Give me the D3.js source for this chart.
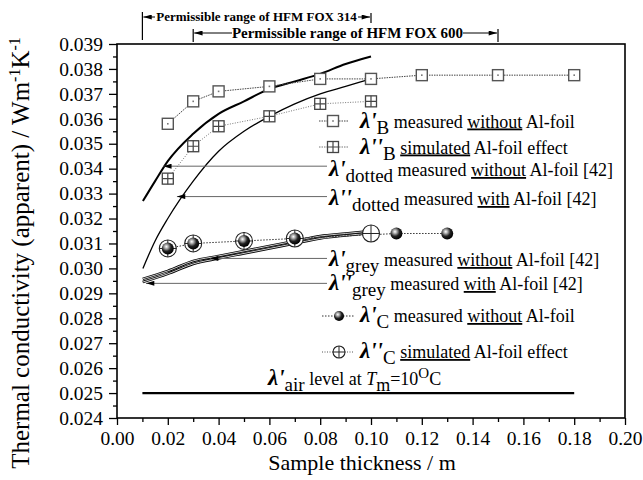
<!DOCTYPE html>
<html>
<head>
<meta charset="utf-8">
<script src="https://cdn.jsdelivr.net/npm/d3@7"></script>
<style>
  body { margin: 0; background: #fff; }
  svg, svg text { font-family: "Liberation Serif", "Times New Roman", Times, serif; }
  text { white-space: pre; }
</style>
</head>
<body>
<div id="chart"></div>
<script>
// values
const xTicks = [0, 0.02, 0.04, 0.06, 0.08, 0.10, 0.12, 0.14, 0.16, 0.18, 0.20];
const xMinor = [0.01, 0.03, 0.05, 0.07, 0.09, 0.11, 0.13, 0.15, 0.17, 0.19];
const yTicks = [0.024, 0.025, 0.026, 0.027, 0.028, 0.029, 0.030, 0.031,
                0.032, 0.033, 0.034, 0.035, 0.036, 0.037, 0.038, 0.039];

// lambda'B measured without Al-foil (open squares)
const bThick    = [0.02, 0.03, 0.04, 0.06, 0.08, 0.10, 0.12, 0.15, 0.18];
const bMeasured = [0.0358, 0.0367, 0.0371, 0.0373, 0.0376, 0.0376, 0.03775, 0.03775, 0.03775];
// lambda''B simulated Al-foil effect (crossed squares)
const bSimThick = [0.02, 0.03, 0.04, 0.06, 0.08, 0.10];
const bSimulated = [0.0336, 0.0349, 0.0357, 0.0361, 0.0366, 0.0367];
// lambda'C measured (balls) and lambda''C simulated (circle-plus)
const cThick    = [0.02, 0.03, 0.05, 0.07, 0.11, 0.13];
const cMeasured = [0.0308, 0.0310, 0.0311, 0.0312, 0.0314, 0.0314];
const cSimThick = [0.02, 0.03, 0.05, 0.07, 0.10];
const cSimulated = [0.0308, 0.0310, 0.0311, 0.0312, 0.0314];
// literature curves [42]
const curveThick    = [0.0102, 0.015, 0.02, 0.03, 0.04, 0.05, 0.06, 0.07, 0.08, 0.09, 0.10];
const dottedWithout = [0.0327, 0.0335, 0.0343, 0.0354, 0.0362, 0.0367, 0.0372, 0.0375, 0.0378, 0.0382, 0.0385];
const dottedWith    = [0.0300, 0.0311, 0.0320, 0.0335, 0.0347, 0.0355, 0.0361, 0.0366, 0.0370, 0.0373, 0.0376];
const greyThick   = [0.0101, 0.02, 0.03, 0.04, 0.05, 0.06, 0.07, 0.08, 0.09, 0.10];
const greyWithout = [0.02958, 0.0299, 0.0303, 0.0305, 0.0307, 0.0309, 0.0311, 0.0313, 0.0314, 0.0315];
const greyWith    = [0.02945, 0.02978, 0.03018, 0.0304, 0.0306, 0.0308, 0.0310, 0.0312, 0.03132, 0.03142];
// air level
const airLevel = 0.025;
const airRange = [0.01, 0.18];
// permissible ranges of the instruments
const fox314 = [0.01, 0.10];
const fox600 = [0.03, 0.15];

const FONT = "'Liberation Serif', 'Times New Roman', Times, serif";
const width = 643, height = 480;
const margin = { top: 44, right: 18, bottom: 62, left: 117 };

const x = d3.scaleLinear().domain([0, 0.2]).range([margin.left, width - margin.right]);
const y = d3.scaleLinear().domain([0.024, 0.039]).range([height - margin.bottom, margin.top]);

const svg = d3.select("#chart").append("svg")
  .attr("width", width).attr("height", height)
  .attr("font-family", FONT);

const defs = svg.append("defs");
const grad = defs.append("radialGradient").attr("id", "ball")
  .attr("cx", "38%").attr("cy", "35%").attr("r", "65%");
grad.append("stop").attr("offset", "0%").attr("stop-color", "#fff");
grad.append("stop").attr("offset", "25%").attr("stop-color", "#aaa");
grad.append("stop").attr("offset", "60%").attr("stop-color", "#222");
grad.append("stop").attr("offset", "100%").attr("stop-color", "#000");

defs.append("marker").attr("id", "head")
  .attr("viewBox", "0 0 10 6").attr("refX", 10).attr("refY", 3)
  .attr("markerWidth", 9).attr("markerHeight", 5).attr("markerUnits", "userSpaceOnUse")
  .attr("orient", "auto")
  .append("path").attr("d", "M0,0L10,3L0,6Z").attr("fill", "#000");

// axes
const xAxis = svg.append("g").attr("transform", `translate(0,${y(0.024)})`)
  .call(d3.axisBottom(x).tickValues(xTicks).tickFormat(d3.format(".2f")).tickSize(7).tickPadding(6).tickSizeOuter(0));
svg.append("g").attr("transform", `translate(0,${y(0.024)})`)
  .call(d3.axisBottom(x).tickValues(xMinor).tickFormat("").tickSize(4).tickSizeOuter(0))
  .select(".domain").remove();
const yAxis = svg.append("g").attr("transform", `translate(${x(0)},0)`)
  .call(d3.axisLeft(y).tickValues(yTicks).tickFormat(d3.format(".3f")).tickSize(8).tickPadding(6).tickSizeOuter(0));
svg.append("g").attr("transform", `translate(${x(0)},0)`)
  .call(d3.axisLeft(y).tickValues(yTicks.slice(0, -1).map(d => d + 0.0005)).tickFormat("").tickSize(4).tickSizeOuter(0))
  .select(".domain").remove();

svg.selectAll("g").attr("font-family", FONT);
svg.selectAll(".tick line").attr("stroke", "#000").attr("stroke-width", 1.3);
xAxis.selectAll("text").attr("font-size", 19.5).attr("fill", "#000");
yAxis.selectAll("text").attr("font-size", 19.5).attr("fill", "#000");
svg.selectAll(".domain").remove();

svg.append("rect")
  .attr("x", x(0)).attr("y", y(0.039))
  .attr("width", x(0.2) - x(0)).attr("height", y(0.024) - y(0.039))
  .attr("fill", "none").attr("stroke", "#000").attr("stroke-width", 1.6);

// axis titles
svg.append("text").attr("x", 362).attr("y", 470).attr("text-anchor", "middle")
  .attr("font-size", 22).text("Sample thickness / m");

const yt = svg.append("text")
  .attr("transform", `translate(29,253) rotate(-90)`)
  .attr("text-anchor", "middle").attr("font-size", 25);
yt.append("tspan").text("Thermal conductivity (apparent) / Wm");
yt.append("tspan").attr("dy", -9).attr("font-size", 16).text("-1");
yt.append("tspan").attr("dy", 9).text("K");
yt.append("tspan").attr("dy", -9).attr("font-size", 16).text("-1");

// literature curves
const line = d3.line().x(d => x(d[0])).y(d => y(d[1])).curve(d3.curveMonotoneX);
const pairs = (xs, ys) => xs.map((v, i) => [v, ys[i]]);

svg.append("path").datum(pairs(curveThick, dottedWithout)).attr("d", line)
  .attr("fill", "none").attr("stroke", "#000").attr("stroke-width", 2);
svg.append("path").datum(pairs(curveThick, dottedWith)).attr("d", line)
  .attr("fill", "none").attr("stroke", "#000").attr("stroke-width", 1.3);

[greyWith, greyWithout].forEach(ys => {
  svg.append("path").datum(pairs(greyThick, ys)).attr("d", line)
    .attr("fill", "none").attr("stroke", "#000").attr("stroke-width", 2.6);
  svg.append("path").datum(pairs(greyThick, ys)).attr("d", line)
    .attr("fill", "none").attr("stroke", "#fff").attr("stroke-width", 0.8);
});

// air line
svg.append("line")
  .attr("x1", x(airRange[0])).attr("x2", x(airRange[1]))
  .attr("y1", y(airLevel)).attr("y2", y(airLevel))
  .attr("stroke", "#000").attr("stroke-width", 2.2);

// marker helpers
function addSquare(sel, s) {
  sel.append("rect").attr("x", -s / 2).attr("y", -s / 2).attr("width", s).attr("height", s)
    .attr("fill", "#fff").attr("stroke", "#555").attr("stroke-width", 1.4);
  sel.append("rect").attr("x", -0.8).attr("y", -0.8).attr("width", 1.6).attr("height", 1.6).attr("fill", "#777");
}
function addGrid(sel, s) {
  sel.append("rect").attr("x", -s / 2).attr("y", -s / 2).attr("width", s).attr("height", s)
    .attr("fill", "#fff").attr("stroke", "#444").attr("stroke-width", 1.3);
  sel.append("path").attr("d", `M${-s / 2},0H${s / 2}M0,${-s / 2}V${s / 2}`)
    .attr("stroke", "#444").attr("stroke-width", 1.2);
}
function addCross(sel, r) {
  sel.append("circle").attr("r", r).attr("fill", "#fff").attr("stroke", "#222").attr("stroke-width", 1.1);
  sel.append("path").attr("d", `M${-r},0H${r}M0,${-r}V${r}`).attr("stroke", "#222").attr("stroke-width", 1);
}
function addBall(sel, r) {
  sel.append("circle").attr("r", r).attr("fill", "url(#ball)");
}
const place = (data) => svg.append("g").selectAll("g").data(data).join("g")
  .attr("transform", d => `translate(${x(d[0])},${y(d[1])})`);

// B series
svg.append("path").datum(pairs(bThick, bMeasured)).attr("d", d3.line().x(d => x(d[0])).y(d => y(d[1])))
  .attr("fill", "none").attr("stroke", "#444").attr("stroke-width", 1).attr("stroke-dasharray", "1.5,1");
svg.append("path").datum(pairs(bSimThick, bSimulated)).attr("d", d3.line().x(d => x(d[0])).y(d => y(d[1])))
  .attr("fill", "none").attr("stroke", "#777").attr("stroke-width", 1).attr("stroke-dasharray", "1,1.5");
addSquare(place(pairs(bThick, bMeasured)), 11);
addGrid(place(pairs(bSimThick, bSimulated)), 11);

// C series
svg.append("path").datum(pairs(cThick, cMeasured)).attr("d", d3.line().x(d => x(d[0])).y(d => y(d[1])))
  .attr("fill", "none").attr("stroke", "#333").attr("stroke-width", 1).attr("stroke-dasharray", "1.5,1.5");
addCross(place(pairs(cSimThick, cSimulated)), 8.5);
addBall(place(pairs(cThick, cMeasured)), 6);

// legend / annotations
function label(xp, yb, primes, sub, parts) {
  const t = svg.append("text").attr("x", xp).attr("y", yb).attr("font-size", 18);
  t.append("tspan").attr("font-size", 23).attr("font-style", "italic").attr("font-weight", "bold")
    .text("\u03bb" + primes);
  t.append("tspan").attr("dy", 6).attr("font-size", 19).text(sub);
  parts.forEach((p, i) => {
    const s = t.append("tspan").text(p[0]);
    if (i === 0) s.attr("dy", -6);
    if (p[1]) s.attr("text-decoration", "underline");
  });
  return t;
}

// B legend
[[121, "'", "B", [[" measured "], ["without", 1], [" Al-foil"]], "sq"],
 [147, "''", "B", [[" "], ["simulated", 1], [" Al-foil effect"]], "grid"]].forEach(r => {
  svg.append("line").attr("x1", 319).attr("x2", 348).attr("y1", r[0]).attr("y2", r[0])
    .attr("stroke", r[4] === "sq" ? "#444" : "#777").attr("stroke-dasharray", "1.5,1");
  const g = svg.append("g").attr("transform", `translate(333,${r[0]})`);
  r[4] === "sq" ? addSquare(g, 11) : addGrid(g, 11);
  label(360, r[0] + 6.5, r[1], r[2], r[3]);
});

// C legend
svg.append("line").attr("x1", 322).attr("x2", 354).attr("y1", 316).attr("y2", 316)
  .attr("stroke", "#333").attr("stroke-dasharray", "1.5,1.5");
addBall(svg.append("g").attr("transform", "translate(339,316)"), 5);
label(360, 322, "'", "C", [[" measured "], ["without", 1], [" Al-foil"]]);
svg.append("line").attr("x1", 322).attr("x2", 354).attr("y1", 352).attr("y2", 352)
  .attr("stroke", "#555").attr("stroke-dasharray", "1,1.5");
addCross(svg.append("g").attr("transform", "translate(339,352)"), 6);
label(360, 358, "''", "C", [[" "], ["simulated", 1], [" Al-foil effect"]]);

// arrows to literature curves
const arrows = [
  { tip: [0.0182, 0.0341], ty: 176, primes: "'", sub: "dotted", parts: [[" measured "], ["without", 1], [" Al-foil [42]"]] },
  { tip: [0.0236, 0.03288], ty: 205, primes: "''", sub: "dotted", parts: [[" measured "], ["with", 1], [" Al-foil [42]"]] },
  { tip: [0.0366, 0.0304], ty: 266, primes: "'", sub: "grey", parts: [[" measured "], ["without", 1], [" Al-foil [42]"]] },
  { tip: [0.0114, 0.0294], ty: 290, primes: "''", sub: "grey", parts: [[" measured "], ["with", 1], [" Al-foil [42]"]] }
];
arrows.forEach(a => {
  svg.append("line").attr("x1", 327).attr("x2", x(a.tip[0]))
    .attr("y1", y(a.tip[1])).attr("y2", y(a.tip[1]))
    .attr("stroke", "#666").attr("stroke-width", 1).attr("marker-end", "url(#head)");
  label(329, a.ty, a.primes, a.sub, a.parts);
});

// air label
const at = svg.append("text").attr("x", 268).attr("y", 385).attr("font-size", 18);
at.append("tspan").attr("font-size", 23).attr("font-style", "italic").attr("font-weight", "bold").text("\u03bb'");
at.append("tspan").attr("dy", 6).attr("font-size", 19).text("air");
at.append("tspan").attr("dy", -6).text(" level at ");
at.append("tspan").attr("font-style", "italic").text("T");
at.append("tspan").attr("dy", 6).text("m");
at.append("tspan").attr("dy", -6).text("=10");
at.append("tspan").attr("dy", -7).attr("font-size", 15).text("O");
at.append("tspan").attr("dy", 7).text("C");

// permissible ranges on top
function rangeMark(r, ty, fs, txt, barTop, barBot, txtL, txtR) {
  const x0 = x(r[0]), x1 = x(r[1]);
  svg.append("line").attr("x1", x0).attr("x2", x0).attr("y1", barTop[0]).attr("y2", barBot[0])
    .attr("stroke", "#000").attr("stroke-width", 1.2);
  svg.append("line").attr("x1", x1).attr("x2", x1).attr("y1", barTop[1]).attr("y2", barBot[1])
    .attr("stroke", "#000").attr("stroke-width", 1.2);
  svg.append("line").attr("x1", txtL).attr("x2", x0 + 1).attr("y1", ty).attr("y2", ty)
    .attr("stroke", "#000").attr("marker-end", "url(#head)");
  svg.append("line").attr("x1", txtR).attr("x2", x1 - 1).attr("y1", ty).attr("y2", ty)
    .attr("stroke", "#000").attr("marker-end", "url(#head)");
  svg.append("text").attr("x", (txtL + txtR) / 2).attr("y", ty + fs * 0.33)
    .attr("text-anchor", "middle").attr("font-size", fs).attr("font-weight", "bold").text(txt);
}
rangeMark(fox314, 17, 13, "Permissible range of HFM FOX 314", [12, 13], [40, 23], 155, 358);
rangeMark(fox600, 33, 15, "Permissible range of HFM FOX 600", [29, 29], [42, 42], 232, 463);
</script>
</body>
</html>
